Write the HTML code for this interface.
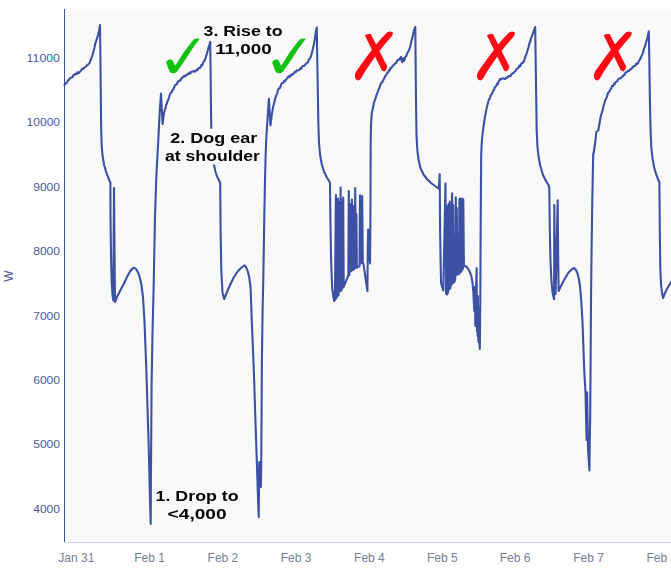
<!DOCTYPE html>
<html>
<head>
<meta charset="utf-8">
<title>Power chart</title>
<style>
html,body{margin:0;padding:0;background:#ffffff;}
body{width:671px;height:569px;overflow:hidden;position:relative;font-family:"Liberation Sans",sans-serif;}
svg{position:absolute;left:0;top:0;display:block;}
.yl{font-family:"Liberation Sans",sans-serif;font-size:11px;fill:#4a5aa6;}
.xl{font-family:"Liberation Sans",sans-serif;font-size:12px;fill:#747e98;}
.an{font-family:"Liberation Sans",sans-serif;font-weight:bold;font-size:15px;fill:#050505;}
</style>
</head>
<body>
<svg width="671" height="569" viewBox="0 0 671 569">
  <defs><filter id="nf" x="0" y="0" width="671" height="569" filterUnits="userSpaceOnUse" color-interpolation-filters="sRGB"><feOffset dx="0" dy="0"/></filter></defs>
  <rect x="0" y="0" width="671" height="569" fill="#ffffff"/>
  <!-- plot background -->
  <rect x="66" y="9" width="605" height="533" fill="#f9f9f9"/>
  <!-- axes -->
  <rect x="65" y="542" width="606" height="1" fill="#c9d3ea"/>
  <rect x="64" y="9" width="1" height="533" fill="#3d4fa1"/>

  <!-- y labels -->
  <g class="yl" text-anchor="end">
    <text x="60" y="62" textLength="33.4" lengthAdjust="spacingAndGlyphs">11000</text>
    <text x="60" y="126.4" textLength="33.4" lengthAdjust="spacingAndGlyphs">10000</text>
    <text x="60" y="190.8" textLength="26.8" lengthAdjust="spacingAndGlyphs">9000</text>
    <text x="60" y="255.2" textLength="26.8" lengthAdjust="spacingAndGlyphs">8000</text>
    <text x="60" y="319.6" textLength="26.8" lengthAdjust="spacingAndGlyphs">7000</text>
    <text x="60" y="384" textLength="26.8" lengthAdjust="spacingAndGlyphs">6000</text>
    <text x="60" y="448.4" textLength="26.8" lengthAdjust="spacingAndGlyphs">5000</text>
    <text x="60" y="512.8" textLength="26.8" lengthAdjust="spacingAndGlyphs">4000</text>
  </g>
  <text class="yl" style="font-size:12px" transform="translate(13.2,276) rotate(-90)" text-anchor="middle">W</text>

  <!-- x labels -->
  <g class="xl" text-anchor="middle">
    <text x="76.3" y="562.2">Jan 31</text>
    <text x="149.6" y="562.2">Feb 1</text>
    <text x="222.9" y="562.2">Feb 2</text>
    <text x="296" y="562.2">Feb 3</text>
    <text x="369.4" y="562.2">Feb 4</text>
    <text x="442.3" y="562.2">Feb 5</text>
    <text x="515" y="562.2">Feb 6</text>
    <text x="588.5" y="562.2">Feb 7</text>
    <text x="661.8" y="562.2">Feb 8</text>
  </g>

  <!-- data line -->
  <path d="M64.5,85.0 L65.4,83.8 L66.2,82.9 L67.1,82.4 L68.0,80.4 L68.8,79.8 L69.5,79.3 L70.2,77.9 L71.0,77.8 L71.8,77.4 L72.6,77.0 L73.4,75.1 L74.2,74.8 L75.0,73.8 L75.8,74.6 L76.6,73.8 L77.4,72.2 L78.2,73.4 L79.0,72.8 L79.9,71.7 L80.8,71.0 L81.6,69.5 L82.5,68.6 L83.4,68.9 L84.2,67.5 L85.1,67.1 L86.0,66.5 L86.9,65.2 L87.8,64.9 L88.7,63.9 L89.6,62.9 L90.5,60.5 L91.5,58.0 L92.5,55.0 L93.5,51.5 L94.5,47.4 L95.3,43.4 L96.2,40.9 L97.1,38.1 L98.0,35.1 L98.6,32.6 L99.2,29.7 L100.0,25.0 L100.4,55.0 L100.8,95.0 L101.2,130.0 L101.7,146.0 L102.6,156.0 L104.0,164.5 L106.0,171.5 L108.0,177.0 L109.4,180.5 L110.4,182.5 L110.5,215.0 L111.0,255.0 L111.6,280.0 L112.4,294.0 L113.3,300.5 L114.0,188.0 L114.5,250.0 L115.0,302.0 L117.0,297.0 L120.0,291.0 L123.5,284.5 L127.0,277.0 L130.0,271.5 L132.5,268.5 L134.3,267.8 L136.0,269.0 L137.8,272.0 L139.5,276.5 L141.2,283.5 L143.0,297.0 L144.5,322.0 L146.2,366.0 L147.6,410.0 L148.8,450.0 L149.8,492.0 L150.7,524.0 L150.9,480.0 L151.3,426.0 L151.6,384.0 L152.5,334.0 L153.7,284.0 L155.0,217.0 L156.2,180.0 L157.2,160.0 L158.3,140.0 L159.7,112.0 L161.0,93.5 L161.6,106.0 L162.6,124.0 L163.3,118.3 L164.0,113.1 L164.7,109.9 L165.5,108.3 L166.2,104.8 L166.9,103.6 L167.6,100.8 L168.3,99.8 L169.0,97.6 L169.9,94.4 L170.8,93.0 L171.6,92.4 L172.5,89.9 L173.4,89.4 L174.2,87.1 L175.1,85.1 L176.0,84.7 L176.8,84.1 L177.6,82.3 L178.4,81.1 L179.2,80.6 L180.0,80.8 L180.8,79.8 L181.7,78.0 L182.5,77.6 L183.3,76.7 L184.2,75.9 L185.0,76.5 L185.8,75.0 L186.7,75.1 L187.5,74.4 L188.3,73.5 L189.2,73.9 L190.0,72.4 L190.8,72.9 L191.6,71.7 L192.4,71.8 L193.2,71.2 L194.0,70.9 L194.9,71.7 L195.8,70.9 L196.6,69.6 L197.5,70.2 L198.2,68.4 L199.0,68.1 L199.8,68.2 L200.5,67.2 L201.3,65.2 L202.2,65.5 L203.0,63.0 L204.0,61.1 L205.0,60.0 L205.9,56.7 L206.8,54.2 L207.6,51.0 L208.3,48.3 L209.4,45.1 L210.2,41.8 L210.6,70.0 L211.0,110.0 L211.4,135.0 L212.2,150.0 L213.6,163.0 L215.5,172.0 L217.5,177.5 L219.3,181.0 L220.2,183.0 L220.6,230.0 L221.3,270.0 L222.5,293.0 L224.2,299.0 L226.0,294.5 L228.0,289.5 L230.5,284.0 L234.0,277.0 L238.0,271.0 L241.5,267.5 L244.7,265.3 L246.5,268.0 L248.0,272.0 L249.5,279.0 L250.6,288.0 L251.8,321.0 L253.2,355.0 L254.3,384.0 L255.4,420.0 L256.8,460.0 L257.8,492.0 L258.7,517.3 L259.3,462.0 L260.9,487.0 L261.3,454.0 L261.6,410.0 L261.9,359.0 L262.6,310.0 L263.2,284.0 L264.3,217.0 L265.0,180.0 L265.7,153.0 L266.5,135.0 L267.6,118.0 L268.9,98.7 L269.6,111.0 L270.5,125.4 L271.6,115.6 L272.3,111.9 L273.0,107.3 L273.8,104.3 L274.5,101.9 L275.3,98.0 L276.2,95.6 L277.1,93.6 L278.0,90.0 L278.8,88.5 L279.6,88.4 L280.4,86.8 L281.2,84.5 L282.0,83.0 L282.8,83.1 L283.5,82.7 L284.2,80.6 L285.0,81.1 L285.8,80.2 L286.5,79.0 L287.3,78.1 L288.1,76.9 L288.9,76.2 L289.6,77.1 L290.4,75.3 L291.2,75.5 L292.0,74.1 L292.8,74.5 L293.5,73.6 L294.2,72.6 L295.0,71.8 L295.8,72.2 L296.5,70.6 L297.2,70.4 L298.0,70.4 L298.8,70.3 L299.6,69.4 L300.4,68.2 L301.2,68.8 L302.0,67.0 L302.9,66.1 L303.8,65.9 L304.6,65.5 L305.5,64.3 L306.3,63.4 L307.2,62.8 L308.0,62.1 L308.8,59.9 L309.5,58.8 L310.3,58.2 L311.3,55.1 L312.3,51.3 L313.1,47.8 L314.0,44.1 L314.8,38.9 L315.5,34.2 L316.1,30.4 L316.8,27.5 L317.2,55.0 L317.8,90.0 L318.4,125.0 L319.0,143.0 L320.0,154.0 L321.7,164.0 L324.0,171.5 L326.8,177.5 L329.2,181.0 L330.0,183.0 L330.4,220.0 L331.1,260.0 L332.2,288.0 L333.3,296.5 L334.2,301.0 L334.9,299.9 L335.9,195.0 L336.4,298.4 L337.0,203.0 L337.5,296.3 L338.0,198.5 L338.6,295.2 L339.1,202.0 L339.9,291.1 L340.6,187.5 L341.2,290.8 L341.8,200.0 L342.5,288.6 L343.2,197.5 L343.7,286.8 L344.5,284.7 L347.8,277.0 L348.3,275.6 L348.8,191.0 L349.4,275.1 L350.0,204.0 L350.5,271.1 L351.4,271.1 L351.9,199.6 L352.5,270.2 L353.2,206.0 L353.7,269.5 L354.7,268.3 L355.2,188.0 L355.8,267.6 L356.4,214.0 L356.9,267.7 L358.7,266.7 L359.5,266.5 L360.0,195.2 L360.6,263.6 L361.1,206.0 L361.6,262.8 L362.2,196.0 L362.8,262.9 L363.5,264.0 L365.5,278.0 L367.4,291.2 L367.8,250.0 L368.2,229.5 L369.2,248.0 L370.0,263.4 L370.3,235.0 L370.5,200.0 L370.6,165.0 L370.7,140.0 L371.0,125.0 L371.8,113.0 L372.5,110.3 L373.2,106.8 L373.9,102.6 L374.9,100.1 L375.8,97.2 L376.8,94.2 L377.8,91.9 L378.5,89.6 L379.3,88.0 L380.0,86.2 L380.9,83.4 L381.7,82.7 L382.6,81.5 L383.5,79.8 L384.4,77.9 L385.3,75.8 L386.0,75.4 L386.7,74.1 L387.4,72.8 L388.1,72.5 L388.9,70.2 L389.7,70.4 L390.4,68.1 L391.2,68.2 L392.0,67.0 L392.8,65.6 L393.6,65.5 L394.4,64.2 L395.2,63.5 L396.0,63.2 L397.0,61.0 L398.0,59.6 L398.8,59.6 L399.5,59.8 L400.2,58.0 L401.0,56.9 L402.2,62.2 L403.2,58.3 L404.1,60.9 L405.0,58.2 L405.6,56.4 L406.3,56.3 L407.1,53.5 L408.0,51.9 L408.9,50.3 L409.8,48.2 L410.6,44.9 L411.5,40.8 L412.4,37.6 L413.2,33.7 L414.3,29.3 L415.3,27.0 L415.6,60.0 L416.0,100.0 L416.5,135.0 L417.3,150.0 L418.6,160.0 L420.5,168.0 L423.5,174.5 L427.0,179.0 L431.0,183.0 L435.0,186.0 L438.8,188.7 L439.7,174.0 L440.1,230.0 L440.6,262.0 L441.1,283.0 L443.0,290.0 L443.3,290.4 L445.5,183.3 L446.1,293.8 L446.6,206.0 L447.1,294.5 L448.1,292.2 L448.6,204.0 L449.2,289.4 L449.8,201.5 L450.4,288.2 L450.9,207.0 L451.5,285.0 L452.1,193.2 L452.6,283.2 L453.2,205.0 L453.7,282.5 L454.6,281.4 L455.3,278.4 L455.8,197.2 L456.3,274.9 L456.8,208.0 L457.3,274.5 L458.9,274.0 L459.4,199.0 L459.9,273.1 L460.4,198.5 L460.9,271.9 L461.4,200.5 L461.9,270.8 L462.4,198.5 L462.9,268.9 L463.3,199.5 L463.9,266.2 L464.6,265.9 L466.2,266.5 L467.8,268.2 L469.6,271.5 L471.4,276.1 L472.5,283.0 L473.3,292.0 L474.3,311.0 L474.8,287.0 L475.4,326.0 L476.0,292.0 L476.6,268.2 L477.0,331.0 L477.3,300.0 L477.6,336.0 L477.9,296.0 L478.3,339.0 L478.6,342.0 L479.1,308.0 L479.5,345.0 L479.8,349.0 L480.3,300.0 L480.6,242.0 L480.9,192.0 L481.2,154.0 L481.8,142.0 L482.9,131.0 L484.6,119.0 L486.8,107.4 L487.5,104.8 L488.3,101.7 L489.0,99.2 L489.9,98.7 L490.7,95.2 L491.6,94.4 L492.4,92.6 L493.2,90.7 L494.0,90.0 L494.8,87.5 L495.5,86.5 L496.3,85.9 L497.0,83.9 L497.8,84.1 L498.5,81.8 L499.4,80.4 L500.3,78.9 L501.1,79.4 L501.8,78.6 L502.6,78.4 L503.4,78.5 L504.2,78.8 L505.0,79.1 L505.8,78.4 L506.6,77.3 L507.4,77.6 L508.2,76.8 L509.0,76.0 L509.7,76.3 L510.5,76.2 L511.3,74.4 L512.1,73.8 L512.9,73.1 L513.7,73.0 L514.5,71.7 L515.3,70.9 L516.0,70.2 L516.8,68.6 L517.6,68.4 L518.4,67.8 L519.2,65.6 L520.0,66.3 L520.8,65.1 L521.6,63.3 L522.4,63.1 L523.2,62.1 L524.0,61.2 L525.0,57.5 L526.0,55.1 L526.8,52.8 L527.7,49.9 L528.5,47.3 L529.3,43.8 L530.2,41.4 L531.0,38.0 L531.7,36.7 L532.5,34.7 L533.2,32.3 L534.2,29.9 L535.2,27.0 L535.6,55.0 L536.1,90.0 L536.7,130.0 L537.4,146.0 L538.6,157.0 L540.2,165.5 L543.0,175.0 L546.0,181.0 L548.6,185.3 L549.3,188.0 L549.8,230.0 L550.5,262.0 L551.4,280.0 L552.6,293.0 L554.1,299.2 L554.3,205.0 L554.9,260.0 L555.6,294.0 L557.7,200.3 L558.1,250.0 L558.6,291.0 L561.7,284.5 L565.1,278.3 L568.0,273.2 L571.3,269.7 L574.2,268.0 L576.0,270.0 L577.5,273.5 L578.9,279.0 L580.0,286.0 L581.2,300.0 L582.5,321.5 L583.5,350.0 L584.3,371.5 L585.5,392.0 L586.6,440.0 L587.1,392.3 L588.0,448.0 L589.4,470.5 L589.8,440.0 L590.2,416.0 L590.7,350.0 L591.0,300.0 L591.6,248.0 L592.3,200.0 L593.2,154.0 L593.8,152.5 L594.5,147.0 L595.3,142.0 L596.3,132.0 L598.3,130.5 L599.9,121.0 L601.0,115.0 L601.6,113.8 L602.2,111.5 L603.0,108.7 L603.7,105.1 L604.5,103.0 L605.3,99.7 L606.0,99.1 L606.8,97.3 L607.5,94.7 L608.2,92.7 L609.0,91.9 L609.8,90.6 L610.5,89.5 L611.4,87.9 L612.2,85.9 L613.1,86.2 L614.0,83.7 L614.8,84.1 L615.6,82.1 L616.4,81.5 L617.2,81.4 L618.0,79.4 L618.8,78.6 L619.7,78.5 L620.5,78.2 L621.3,77.6 L622.2,76.6 L623.0,76.3 L623.8,74.8 L624.7,74.9 L625.5,72.7 L626.3,72.2 L627.2,72.0 L628.0,70.9 L628.8,71.0 L629.7,70.1 L630.5,69.2 L631.3,69.1 L632.2,67.8 L633.0,66.7 L633.8,66.0 L634.7,66.1 L635.5,65.5 L636.3,63.5 L637.2,63.9 L638.0,63.3 L638.9,61.0 L639.9,59.6 L640.8,57.5 L641.5,56.2 L642.3,54.3 L643.0,52.7 L644.0,48.4 L645.0,46.8 L645.9,43.0 L646.8,39.8 L647.4,38.0 L648.0,35.1 L648.8,31.3 L649.3,60.0 L649.9,100.0 L650.7,135.0 L651.4,148.0 L652.6,159.0 L654.2,167.5 L656.2,174.5 L658.2,179.5 L659.4,182.5 L659.8,230.0 L660.3,268.0 L661.0,284.0 L662.0,293.0 L663.1,297.9 L664.8,293.5 L666.8,289.3 L669.0,285.5 L671.5,281.5 L674.0,278.0" fill="none" stroke="#3d51a4" stroke-width="2.1" stroke-linejoin="round" stroke-linecap="round"/>

  <!-- check marks -->
  <g id="chk" fill="#12c212">
    <path d="M166.1,61.9 Q168,59.5 170.8,59.3 Q172.5,59.5 173.2,61.5 L175.2,65.8 Q183,52 193.5,39.5 Q196.5,37.8 199.8,38.7 Q193,47 186.6,57.7 Q181,66 176.5,72.3 Q175,73.4 172.5,73.2 Q170.3,73 169.6,71.5 Q167.5,66.5 166.1,61.9 Z"/>
    <path transform="translate(106,0)" d="M166.1,61.9 Q168,59.5 170.8,59.3 Q172.5,59.5 173.2,61.5 L175.2,65.8 Q183,52 193.5,39.5 Q196.5,37.8 199.8,38.7 Q193,47 186.6,57.7 Q181,66 176.5,72.3 Q175,73.4 172.5,73.2 Q170.3,73 169.6,71.5 Q167.5,66.5 166.1,61.9 Z"/>
  </g>

  <!-- X marks -->
  <g id="xm" fill="#ff0a14">
    <g>
      <path d="M387.2,32.3 L390,31.6 L393,32.6 Q392.8,35 391.4,36.8 Q385,44 379.8,50.4 Q375,56.5 371.4,62 L365,71.6 L361,78.6 Q359.8,80.4 358.2,80.4 Q356,80 355.3,78.2 Q354.6,76 355.2,73.8 Q356,71.5 357.7,69.2 L366.1,57.6 Q370.5,51.5 375.6,44.9 Q381,38.5 387.2,32.3 Z"/>
      <path d="M364.8,35.2 L367.6,33.9 L370.8,34 L387.3,66.6 L386.4,69.2 L384.5,71.5 L381.9,70.4 Z"/>
    </g>
    <g transform="translate(122.1,0)">
      <path d="M387.2,32.3 L390,31.6 L393,32.6 Q392.8,35 391.4,36.8 Q385,44 379.8,50.4 Q375,56.5 371.4,62 L365,71.6 L361,78.6 Q359.8,80.4 358.2,80.4 Q356,80 355.3,78.2 Q354.6,76 355.2,73.8 Q356,71.5 357.7,69.2 L366.1,57.6 Q370.5,51.5 375.6,44.9 Q381,38.5 387.2,32.3 Z"/>
      <path d="M364.8,35.2 L367.6,33.9 L370.8,34 L387.3,66.6 L386.4,69.2 L384.5,71.5 L381.9,70.4 Z"/>
    </g>
    <g transform="translate(238.9,0)">
      <path d="M387.2,32.3 L390,31.6 L393,32.6 Q392.8,35 391.4,36.8 Q385,44 379.8,50.4 Q375,56.5 371.4,62 L365,71.6 L361,78.6 Q359.8,80.4 358.2,80.4 Q356,80 355.3,78.2 Q354.6,76 355.2,73.8 Q356,71.5 357.7,69.2 L366.1,57.6 Q370.5,51.5 375.6,44.9 Q381,38.5 387.2,32.3 Z"/>
      <path d="M364.8,35.2 L367.6,33.9 L370.8,34 L387.3,66.6 L386.4,69.2 L384.5,71.5 L381.9,70.4 Z"/>
    </g>
  </g>

  <!-- annotations -->
  <rect x="167.5" y="128.7" width="92" height="18.2" fill="#f9f9f9"/>
  <rect x="162.5" y="146.7" width="99" height="17.8" fill="#f9f9f9"/>
  <g class="an" filter="url(#nf)">
    <text x="203.5" y="35.9" textLength="79" lengthAdjust="spacingAndGlyphs">3. Rise to</text>
    <text x="215.2" y="54" textLength="56.5" lengthAdjust="spacingAndGlyphs">11,000</text>
    <text x="170.2" y="142.5" textLength="87" lengthAdjust="spacingAndGlyphs">2. Dog ear</text>
    <text x="165" y="160.7" textLength="95" lengthAdjust="spacingAndGlyphs">at shoulder</text>
    <text x="155.6" y="500.9" textLength="83" lengthAdjust="spacingAndGlyphs">1. Drop to</text>
    <text x="167.6" y="519" textLength="59" lengthAdjust="spacingAndGlyphs">&lt;4,000</text>
  </g>
</svg>
</body>
</html>
